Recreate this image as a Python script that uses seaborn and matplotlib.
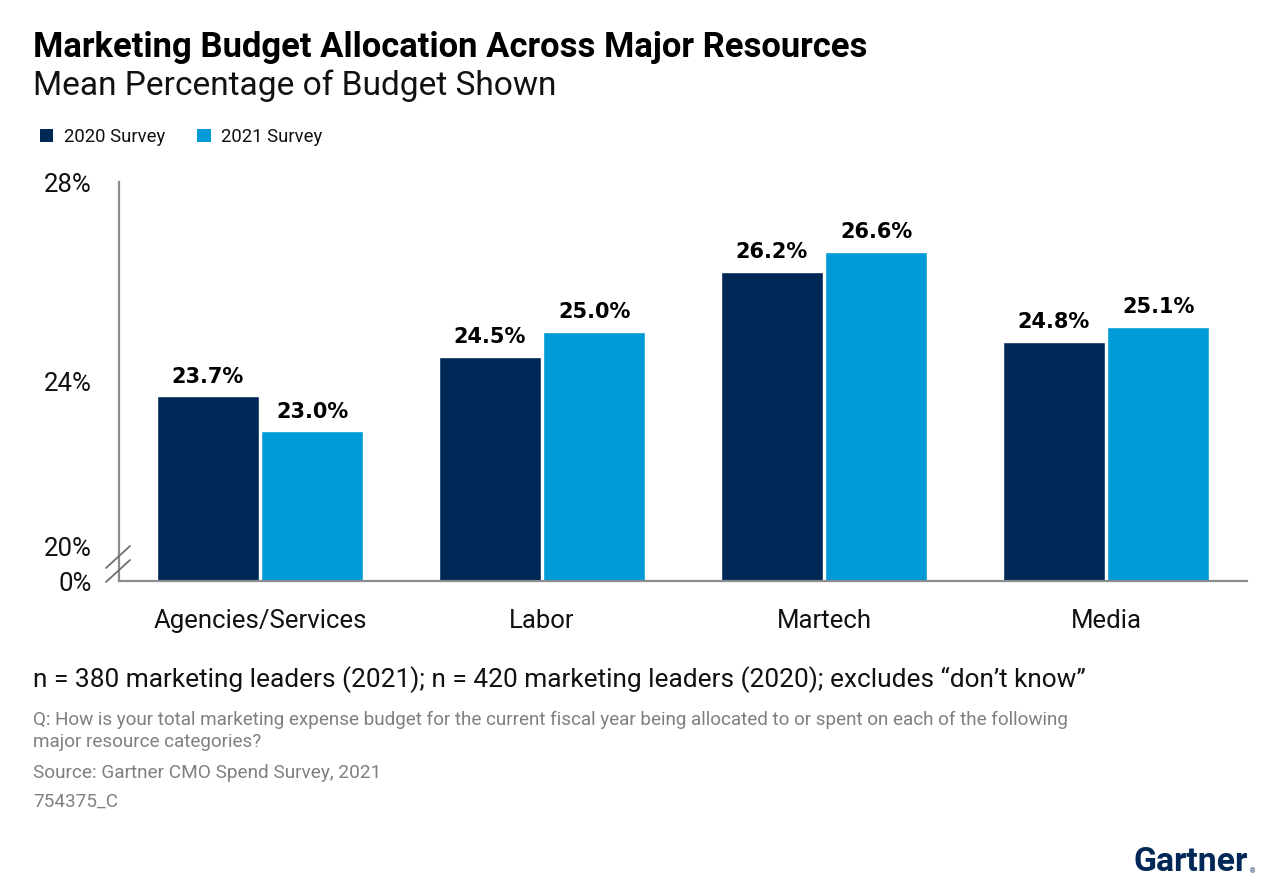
import matplotlib
matplotlib.use("Agg")
import matplotlib.pyplot as plt
from matplotlib.lines import Line2D
from matplotlib.patches import Patch
import seaborn as sns
import pandas as pd

categories = ["Agencies/Services", "Labor", "Martech", "Media"]
surveys = ["2020 Survey", "2021 Survey"]
v2020 = [23.7, 24.5, 26.2, 24.8]
v2021 = [23.0, 25.0, 26.6, 25.1]
ytick_vals = [24, 28]
ytick_labels = ["24%", "28%"]

DARK = "#002856"
LIGHT = "#009AD7"

sns.set_theme(style="white")
plt.rcParams['font.family'] = ['Roboto', 'DejaVu Sans']

df = pd.DataFrame({
    "Category": categories * 2,
    "Survey": [surveys[0]] * 4 + [surveys[1]] * 4,
    "Value": v2020 + v2021,
})

W, H = 1280, 889
fig = plt.figure(figsize=(W / 100, H / 100), dpi=100)
ax = fig.add_axes([119 / W, 1 - 581 / H, (1247 - 119) / W, (581 - 182) / H])

sns.barplot(data=df, x="Category", y="Value", hue="Survey", order=categories,
            hue_order=surveys, palette=[DARK, LIGHT], width=0.74, gap=0.02,
            ax=ax, legend=False, saturation=1)

TICK_FS = 18.5
ax.set_xlim(-0.5, 3.5)
ax.set_ylim(20, 28)
ax.set_yticks(ytick_vals)
ax.set_yticklabels(ytick_labels)
ax.set_xlabel("")
ax.set_ylabel("")
ax.tick_params(axis="y", length=0, pad=19.5, labelsize=TICK_FS, labelcolor="#111111")
ax.tick_params(axis="x", length=0, pad=20, labelsize=TICK_FS, labelcolor="#111111")
for s in ["top", "right"]:
    ax.spines[s].set_visible(False)
for s in ["left", "bottom"]:
    ax.spines[s].set_color("#8a8d8f")
    ax.spines[s].set_linewidth(1.6)

for cont in ax.containers:
    ax.bar_label(cont, fmt="%.1f%%", padding=7, fontsize=15, fontweight="bold",
                 family="DejaVu Sans", color="#000000")

# broken-axis labels and marks
fig.text(92 / W, 1 - 549 / H, "20%", ha="right", va="center", fontsize=TICK_FS, color="#111111")
fig.text(92 / W, 1 - 584 / H, "0%", ha="right", va="center", fontsize=TICK_FS, color="#111111")
for (x0, y0, x1, y1) in [(106, 568, 130, 546), (106, 582, 130, 560)]:
    fig.add_artist(Line2D([x0 / W, x1 / W], [1 - y0 / H, 1 - y1 / H],
                          transform=fig.transFigure, color="#6d7173", lw=1.3))

# titles and notes
t_title = fig.text(33 / W, 1 - 48 / H, "Marketing Budget Allocation Across Major Resources",
                   ha="left", va="center", fontsize=22, fontweight="bold", color="#000000")
t_sub = fig.text(33 / W, 1 - 86 / H, "Mean Percentage of Budget Shown",
                 ha="left", va="center", fontsize=22, color="#111111")
t_n = fig.text(33 / W, 1 - 680 / H,
               "n = 380 marketing leaders (2021); n = 420 marketing leaders (2020); excludes \u201cdon\u2019t know\u201d",
               ha="left", va="center", fontsize=15, color="#111111")
t_q = fig.text(33 / W, 1 - 720 / H,
               "Q: How is your total marketing expense budget for the current fiscal year being allocated to or spent on each of the following",
               ha="left", va="center", fontsize=12, color="#7d8083")
t_q2 = fig.text(33 / W, 1 - 742 / H, "major resource categories?",
                ha="left", va="center", fontsize=12, color="#7d8083")
t_src = fig.text(33 / W, 1 - 773 / H, "Source: Gartner CMO Spend Survey, 2021",
                 ha="left", va="center", fontsize=12, color="#7d8083")
t_id = fig.text(33 / W, 1 - 802 / H, "754375_C",
                ha="left", va="center", fontsize=12, color="#7d8083")
t_logo = fig.text(1248 / W, 1 - 862 / H, "Gartner", ha="right", va="center",
                  fontsize=22, fontweight="bold", color="#002856")
fig.text(1255 / W, 1 - 872 / H, "\u00ae", ha="right", va="center", fontsize=5, color="#002856")

# legend
handles = [Patch(facecolor=DARK, edgecolor="none"), Patch(facecolor=LIGHT, edgecolor="none")]
fig.legend(handles, surveys, loc="center left", bbox_to_anchor=(23 / W, 1 - 137 / H),
           ncol=2, frameon=False, handlelength=0.75, handleheight=0.75, handletextpad=0.55,
           columnspacing=1.75, fontsize=13.3, labelcolor="#111111")

# fit text widths
fig.canvas.draw()
for t, wpx in [(t_title, 833), (t_sub, 525), (t_n, 1052), (t_q, 1040), (t_src, 347), (t_logo, 114)]:
    bb = t.get_window_extent()
    t.set_fontsize(t.get_fontsize() * wpx / bb.width)
t_q2.set_fontsize(t_q.get_fontsize())
t_id.set_fontsize(t_q.get_fontsize())

fig.savefig("out.png", dpi=100)
